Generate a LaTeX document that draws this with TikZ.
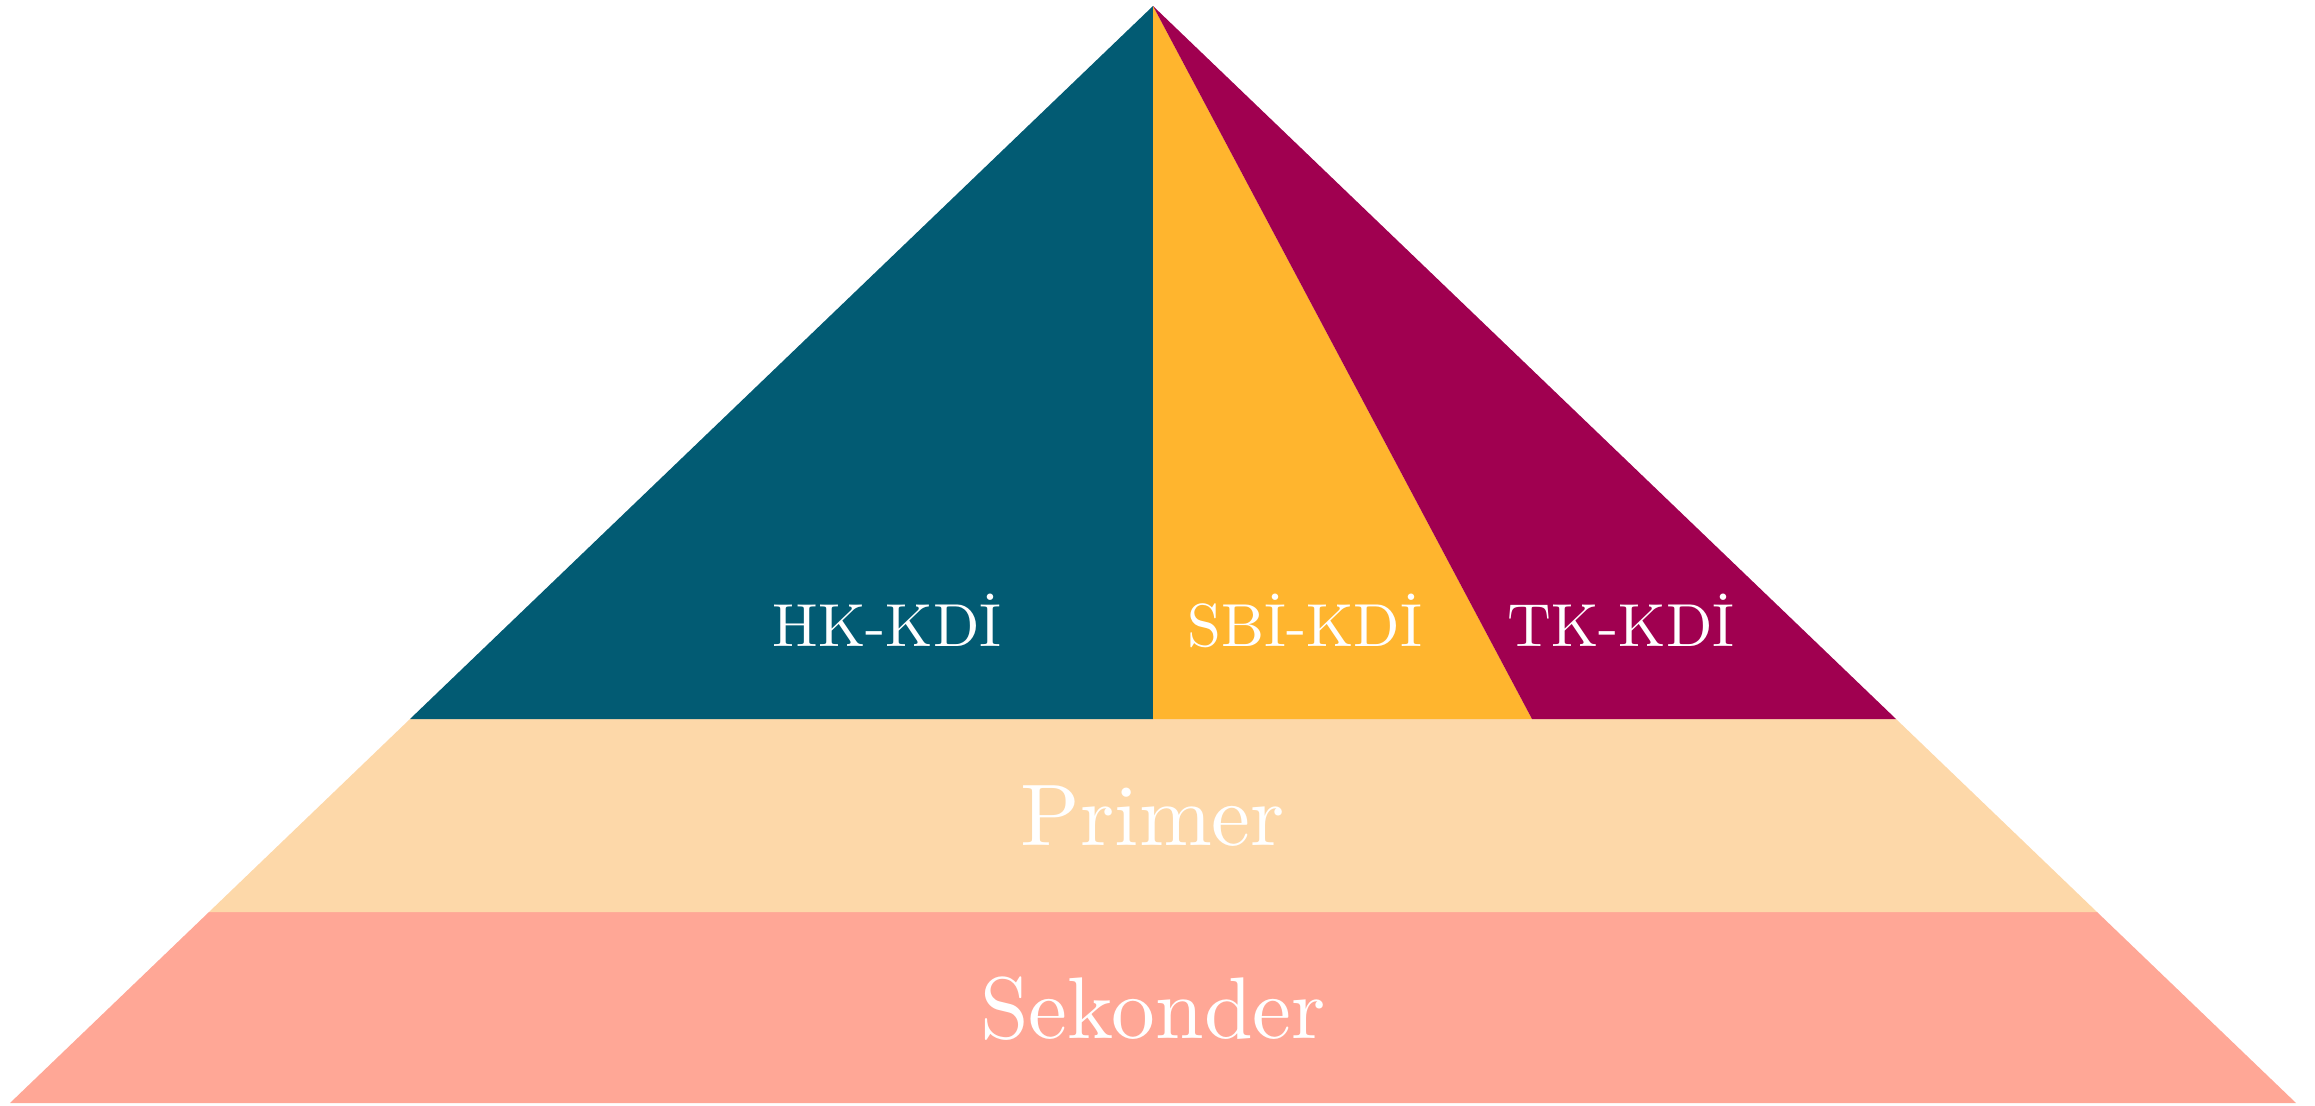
\documentclass[tikz,border=0pt]{standalone}
\usepackage{graphicx}
\usepackage{tikz}
\definecolor{cblue}{RGB}{2,91,115}
\definecolor{corange}{RGB}{255,181,46}
\definecolor{cmagenta}{RGB}{160,0,80}
\definecolor{cprimer}{RGB}{253,216,169}
\definecolor{csekonder}{RGB}{255,167,150}
\newcommand{\lbltext}[1]{\scalebox{1.728}{#1}}
\newcommand{\bigtext}[1]{\scalebox{2.488}{#1}}
\tikzset{
  lbl/.style={text=white, font=\normalsize, anchor=base, inner sep=0pt},
  big/.style={text=white, font=\normalsize, anchor=base, inner sep=0pt}
}
\begin{document}
\begin{tikzpicture}[x=0.01cm, y=-0.01cm]
\useasboundingbox (0,0) rectangle (2315,1106);
\coordinate (A) at (1153,6);
\coordinate (BL) at (10,1103);
\coordinate (BR) at (2296,1103);
\coordinate (L1l) at (410,719);
\coordinate (L1r) at (1896,719);
\coordinate (L2l) at (209,912);
\coordinate (L2r) at (2097,912);
\coordinate (S) at (1532,719);
\coordinate (V) at (1153,719);
% bands
\fill[csekonder] (L2l) -- (L2r) -- (BR) -- (BL) -- cycle;
\fill[cprimer] (L1l) -- (L1r) -- (L2r) -- (L2l) -- cycle;
% top sections
\fill[cblue] (A) -- (V) -- (L1l) -- cycle;
\fill[corange] (A) -- (S) -- (V) -- cycle;
\fill[cmagenta] (A) -- (L1r) -- (S) -- cycle;
% labels
\node[lbl] (hk) at (887,646) {\lbltext{HK-KDİ}};
\node[lbl] (sbi) at (1305,646) {\lbltext{SBİ-KDİ}};
\node[lbl] (tk) at (1621,646) {\lbltext{TK-KDİ}};
\node[big] (primer) at (1153,845) {\bigtext{Primer}};
\node[big] (sekonder) at (1153,1038) {\bigtext{Sekonder}};
\end{tikzpicture}
\end{document}
